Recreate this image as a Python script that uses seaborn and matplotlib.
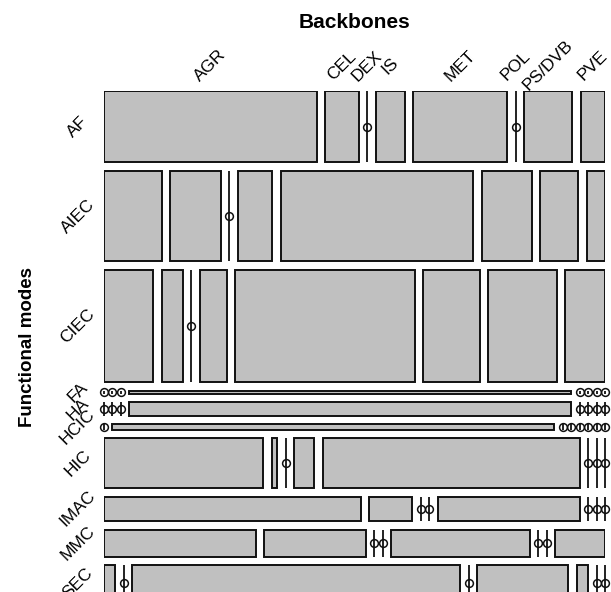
import numpy as np
import pandas as pd
import seaborn as sns
import matplotlib.pyplot as plt

# Categories
backbones = ["AGR", "CEL", "DEX", "IS", "MET", "POL", "PS/DVB", "PVE"]
modes = ["AF", "AIEC", "CIEC", "FA", "HA", "HCIC", "HIC", "IMAC", "MMC", "SEC"]

# Counts per functional mode (rows) x backbone (columns)
af   = [9.07, 1.42, 0, 1.23, 4.00, 0, 2.05, 1.04]
aiec = [3.11, 2.74, 0, 1.86, 10.35, 2.69, 2.05, 0.99]
ciec = [3.30, 1.41, 0, 1.83, 12.01, 3.77, 4.59, 2.68]
fa   = [0, 0, 0, 0.75, 0, 0, 0, 0]
ha   = [0, 0, 0, 3.55, 0, 0, 0, 0]
hcic = [0, 1.50, 0, 0, 0, 0, 0, 0]
hic  = [4.72, 0.17, 0, 0.59, 7.62, 0, 0, 0]
imac = [3.73, 0.62, 0, 0, 2.06, 0, 0, 0]
mmc  = [2.44, 1.63, 0, 0, 2.23, 0, 0, 0.80]
sec  = [0.25, 0, 7.04, 0, 1.95, 0.25, 0, 0]

tab = pd.DataFrame([af, aiec, ciec, fa, ha, hcic, hic, imac, mmc, sec],
                   index=modes, columns=backbones)

sns.set_theme(style="white")
plt.rcParams["font.family"] = ["Liberation Sans", "DejaVu Sans"]
plt.rcParams["text.color"] = "black"

fig = plt.figure(figsize=(6.11, 5.92), dpi=100)
# mosaic box in pixels (the picture is cropped at the bottom)
W, H = 501.5, 510.5
x0, y0 = 103.75, 90.75
ax = fig.add_axes([x0 / 611, 1 - (y0 + H) / 592, W / 611, H / 592])
ax.set_xlim(0, 1)
ax.set_ylim(1, 0)
ax.axis("off")

fill = "#c0c0c0"
edge = "#111111"
gx, gy = 8.5 / W, 8.5 / H
nr, nc = tab.shape

row_tot = tab.sum(axis=1).values
heights = (1 - gy * (nr - 1)) * row_tot / row_tot.sum()
tops = np.concatenate([[0], np.cumsum(heights + gy)[:-1]])

for i, mode in enumerate(modes):
    vals = tab.loc[mode].values
    widths = (1 - gx * (nc - 1)) * vals / vals.sum()
    lefts = np.concatenate([[0], np.cumsum(widths + gx)[:-1]])
    nz = widths > 0
    ax.bar(lefts[nz], heights[i], width=widths[nz], bottom=tops[i], align="edge",
           color=fill, edgecolor=edge, linewidth=1.4)
    z = ~nz
    if z.any():
        ax.vlines(lefts[z], tops[i], tops[i] + heights[i], color=edge,
                  linewidth=1.3, clip_on=False)
        ax.plot(lefts[z], np.full(z.sum(), tops[i] + heights[i] / 2), "o",
                mfc="none", mec=edge, mew=1.1, ms=5.6, clip_on=False)
    # row label
    ax.text(-26 / W, tops[i] + heights[i] / 2, mode, rotation=45,
            ha="center", va="center", fontsize=12.5)
    # column labels from the first row
    if i == 0:
        centers = lefts + widths / 2
        for cx, lab in zip(centers, backbones):
            ax.text(cx, -25 / H, lab, rotation=45, ha="center", va="center",
                    fontsize=12.5)

ax.text(0.5, -(y0 - 22) / H, "Backbones", ha="center", va="center",
        fontsize=15, fontweight="bold")
ax.text(-(x0 - 28) / W, (347 - y0) / H, "Functional modes", ha="center",
        va="center", rotation=90, fontsize=13.5, fontweight="bold")

fig.savefig("out.png", dpi=100)
